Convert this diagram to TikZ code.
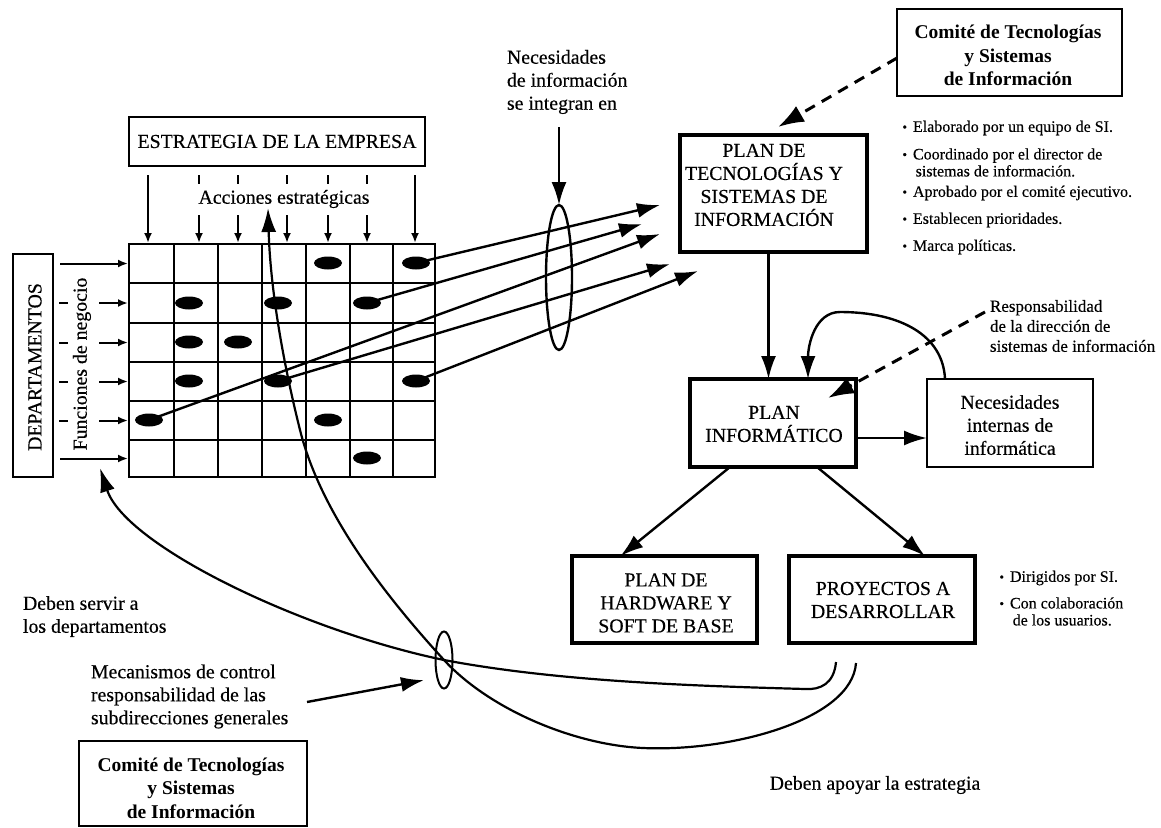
\documentclass[tikz,border=0pt]{standalone}
\usepackage{fontspec}
\setmainfont{Liberation Serif}[UprightFeatures={FakeBold=0.35}]
\usetikzlibrary{arrows.meta,shapes.geometric}
\newcommand{\itembul}{\llap{\raisebox{0.5pt}{\fontsize{13}{13}\selectfont\textbullet}\hspace{6pt}}}
\begin{document}
\begin{tikzpicture}[x=1pt,y=-1pt,
  every node/.style={inner sep=0pt, outer sep=0pt},
  txt/.style={font=\fontsize{19.8}{23}\selectfont, align=center},
  txtl/.style={font=\fontsize{19.8}{23}\selectfont, align=left},
  smalltxt/.style={font=\fontsize{16}{17}\selectfont, align=left},
  resptxt/.style={font=\fontsize{17}{20}\selectfont, align=left},
  boldtxt/.style={font=\fontsize{19.5}{23.5}\selectfont\bfseries, align=center},
  thinbox/.style={draw, line width=2pt, rectangle},
  thickbox/.style={draw, line width=3.5pt, rectangle},
  gridline/.style={line width=2.6pt},
  tick/.style={line width=2pt},
  smallarr/.style={line width=2pt, -{Latex[length=10pt,width=8pt]}},
  bigarr/.style={line width=2.4pt, -{Latex[length=23pt,width=15pt]}},
  dasharr/.style={line width=3pt, dash pattern=on 11pt off 8pt, -{Latex[length=26pt,width=18pt]}},
  curvearr/.style={line width=2.2pt, -{Latex[length=24pt,width=15pt]}},
  lensshape/.style={draw, ellipse, line width=2.4pt}
]
\useasboundingbox (0,0) rectangle (1161,827);

% ---- strategy block and strategic actions ----
\node[thinbox, txt, minimum width=296pt, minimum height=49pt] (estr) at (277,141.5) {ESTRATEGIA DE LA EMPRESA};
\node[txt] (acc) at (284,199) {Acciones estratégicas};

% ---- business functions grid ----
\foreach \x in {174,218,262,306,350,393} \draw[gridline] (\x,244) -- (\x,477);
\foreach \y in {283,323,362,401,440} \draw[gridline] (129,\y) -- (435,\y);
\draw[gridline] (129,244) rectangle (435,477);

% arrows from the strategy into the grid columns
\foreach \x in {148,415} \draw[smallarr] (\x,175) -- (\x,243);
\foreach \x in {199,238,287,328,367} {
  \draw[tick] (\x,175) -- (\x,184);
  \draw[smallarr] (\x,215) -- (\x,243);
}

% ---- departments ----
\node[thinbox, minimum width=40pt, minimum height=223pt] (dept) at (33,365.5) {};
\node[txt, rotate=90] (dept-t) at (35,367) {DEPARTAMENTOS};
\node[txt, rotate=90] (func) at (82,364) {Funciones de negocio};

\draw[smallarr] (60,263.5) -- (128,263.5);
\foreach \y in {303,342.5,381.5,420.5} {
  \draw[tick] (59,\y) -- (68,\y);
  \draw[smallarr] (99,\y) -- (128,\y);
}
\draw[smallarr] (60,458.5) -- (128,458.5);

% ---- information needs inside the grid ----
\foreach \x/\y [count=\i] in {328/263,416/263,189/303,278/303,367/303,189/342,238/342,189/381,278/381,416/381,149/420,328/420,367/458} {
  \coordinate (d\i) at (\x,\y);
  \fill (d\i) ellipse [x radius=14pt, y radius=6.5pt];
}

\coordinate (e1) at (660,205);
\coordinate (e2) at (642,224);
\coordinate (e3) at (660,234);
\coordinate (e4) at (670,264);
\coordinate (e5) at (698,271);
\draw[bigarr] (d2) -- (e1);
\draw[bigarr] (d5) -- (e2);
\draw[bigarr] (d11) -- (e3);
\draw[bigarr] (d9) -- (e4);
\draw[bigarr] (d10) -- (e5);

\node[lensshape, minimum width=26pt, minimum height=145pt] (lens) at (559,277.5) {};
\node[txtl, anchor=west] (necl) at (507,82) {Necesidades\\de información\\se integran en};
\coordinate (necl-a) at (559,127);
\draw[bigarr] (necl-a) -- (lens.north);

% ---- committee (top) ----
\node[thinbox, minimum width=225pt, minimum height=87pt] (comA) at (1009.5,52.5) {};
\node[boldtxt] (comA-t) at (1008,55.5) {Comité de Tecnologías\\y Sistemas\\de Información};

% ---- IT and IS plan ----
\node[thickbox, minimum width=187pt, minimum height=117pt] (plantec) at (773.5,193.5) {};
\node[txt] (plantec-t) at (764,185) {PLAN DE\\TECNOLOGÍAS Y\\SISTEMAS DE\\INFORMACIÓN};
\draw[dasharr] ([yshift=-5.5pt]comA.west) -- ([xshift=4.5pt,yshift=8pt]plantec.north);

\node[smalltxt, anchor=west] (b1) at (913,128) {\itembul Elaborado por un equipo de SI.};
\node[smalltxt, anchor=west] (b2) at (913,162.5) {\itembul Coordinado por el director de\\\,sistemas de información.};
\node[smalltxt, anchor=west] (b3) at (913,193) {\itembul Aprobado por el comité ejecutivo.};
\node[smalltxt, anchor=west] (b4) at (913,220) {\itembul Establecen prioridades.};
\node[smalltxt, anchor=west] (b5) at (913,247) {\itembul Marca políticas.};

% ---- computing plan ----
\node[thickbox, minimum width=166pt, minimum height=88pt] (planinf) at (773,423) {};
\node[txt] (planinf-t) at (774,424) {PLAN\\INFORMÁTICO};
\node[thinbox, minimum width=166pt, minimum height=88pt] (necint) at (1010,423) {};
\node[txt] (necint-t) at (1010,425) {Necesidades\\internas de\\informática};

\draw[bigarr] ([xshift=-5pt]plantec.south) -- ([xshift=-5pt]plantec.south |- planinf.north);
\draw[bigarr] ([yshift=-15pt]planinf.east) -- ([yshift=-15pt]necint.west);
\draw[bigarr] ([xshift=-65pt]necint.north) .. controls (943,335) and (900,312) .. (840,312)
  .. controls (815,312) and (808,345) .. ([xshift=35pt]planinf.north);

\node[resptxt, anchor=west] (resp) at (990,326) {Responsabilidad\\de la dirección de\\sistemas de información};
\coordinate (resp-a) at (985,312);
\draw[dasharr] (resp-a) -- ([xshift=-28pt,yshift=-19pt]planinf.north east);

% ---- plans derived from the computing plan ----
\node[thickbox, minimum width=185pt, minimum height=87pt] (hard) at (664.5,599.5) {};
\node[txt] (hard-t) at (666,603) {PLAN DE\\HARDWARE Y\\SOFT DE BASE};
\node[thickbox, minimum width=186pt, minimum height=87pt] (proy) at (882,599.5) {};
\node[txt] (proy-t) at (883,600) {PROYECTOS A\\DESARROLLAR};
\draw[bigarr] ([xshift=-43pt]planinf.south) -- ([xshift=-44pt]hard.north);
\draw[bigarr] ([xshift=44pt]planinf.south) -- ([xshift=43pt]proy.north);

\node[smalltxt, anchor=west] (b6) at (1010,578) {\itembul Dirigidos por SI.};
\node[smalltxt, anchor=west] (b7) at (1010,611.5) {\itembul Con colaboración\\\,de los usuarios.};

% ---- control loop back to departments and strategy ----
\node[draw, ellipse, line width=2pt, minimum width=17pt, minimum height=57pt] (smallell) at (444,660) {};
\coordinate (ca0) at (836,662);
\coordinate (cb0) at (856,663);
\coordinate (dep-t) at (100,468);
\draw[curvearr] (ca0) .. controls (834,684) and (820,690) .. (805,689)
  .. controls (700,686) and (560,682) .. (smallell.center)
  .. controls (300,630) and (125,545) .. (dep-t);
\draw[curvearr] (cb0) .. controls (852,720) and (730,752) .. (643,748)
  .. controls (575,745) and (490,710) .. (smallell.center)
  .. controls (380,590) and (320,510) .. (300,430)
  .. controls (280,350) and (270,280) .. ([xshift=-16pt]acc.south);

\node[txtl, anchor=west] (serv) at (23,616.5) {Deben servir a\\los departamentos};
\node[txtl, anchor=west] (mec) at (91,696.5) {Mecanismos de control\\responsabilidad de las\\subdirecciones generales};
\coordinate (mec-a) at (307,702);
\draw[bigarr] (mec-a) -- ([xshift=-14pt]smallell.south west);
\node[txt] (apoy) at (875,785) {Deben apoyar la estrategia};

% ---- committee (bottom) ----
\node[thinbox, minimum width=228pt, minimum height=85pt] (comB) at (193,783.5) {};
\node[boldtxt] (comB-t) at (191,788) {Comité de Tecnologías\\y Sistemas\\de Información};
\end{tikzpicture}
\end{document}
